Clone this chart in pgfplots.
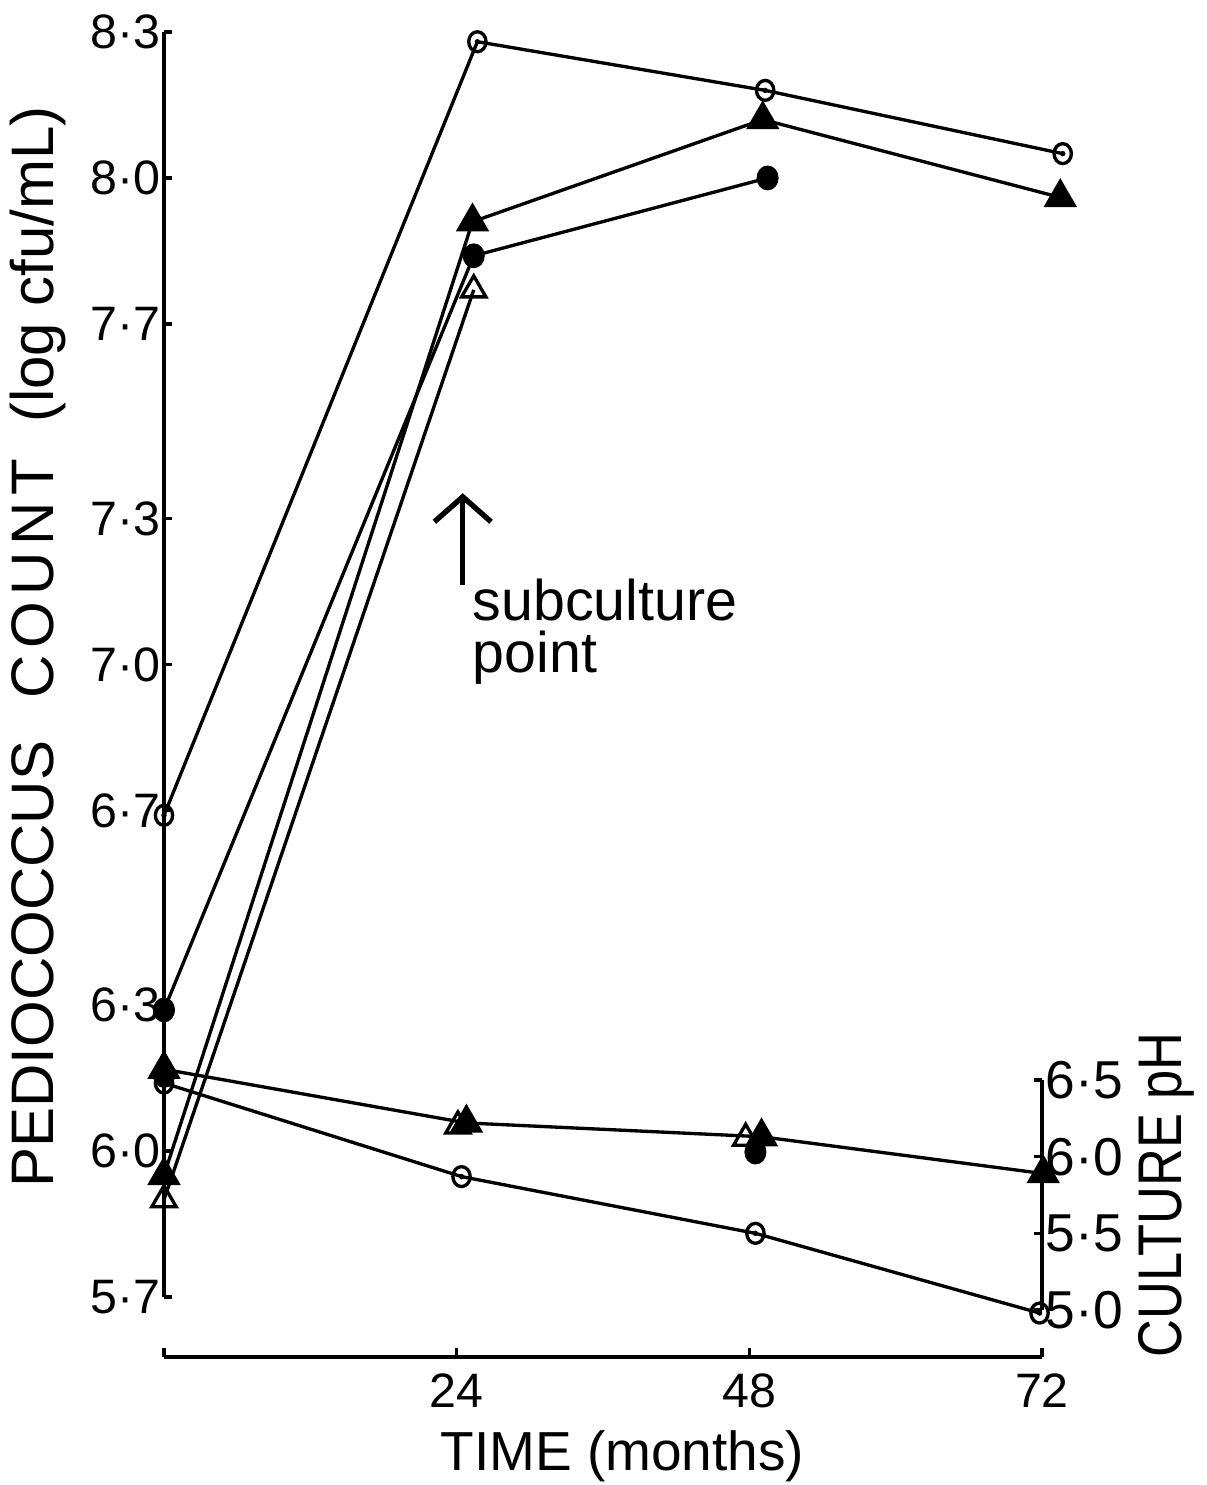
\documentclass[border=0pt]{standalone}
\usepackage{fontspec}
\setmainfont{Liberation Sans}
\newfontfamily\narrowfont[FakeStretch=0.85]{Liberation Sans}
\usepackage{pgfplots}
\pgfplotsset{compat=1.18}
\usetikzlibrary{arrows.meta}

\newcommand{\ticksize}{\fontsize{14.5}{16}\selectfont}
\newcommand{\phticksize}{\fontsize{16}{18}\selectfont}

\pgfplotsset{
  dotnum/.style={/pgf/number format/.cd, fixed, fixed zerofill, precision=1,
    set decimal separator={·}, assume math mode=true},
  thinline/.style={black, line width=1pt},
  ocirc/.style={thinline, mark=o, mark size=2.6pt,
    mark options={solid, fill=white, yscale=1.15, line width=1pt}},
  ocircdot/.style={only marks, mark=*, mark size=0.6pt, mark options={black}},
  fcirc/.style={thinline, mark=*, mark size=2.8pt,
    mark options={solid, fill=black, yscale=1.15}},
  ftri/.style={thinline, mark=triangle*, mark size=4.8pt,
    mark options={solid, fill=black}},
  otri/.style={thinline, mark=triangle, mark size=4.2pt,
    mark options={solid, fill=white, line width=1pt}},
}

\begin{document}
\begin{tikzpicture}
\path[use as bounding box] (0,0) rectangle (362.1pt,445.5pt);

% ---------------- Pediococcus count (left axis) ----------------
\begin{axis}[
  at={(49.2pt,56.4pt)}, anchor=south west,
  scale only axis, width=263.4pt, height=379.5pt,
  xmin=0, xmax=72, ymin=5.7, ymax=8.3, clip=false,
  axis x line=none, axis y line*=left,
  axis line style={line width=1pt, -},
  ytick={5.7,6.0,6.3,6.7,7.0,7.3,7.7,8.0,8.3},
  tick align=inside, major tick length=2.5pt,
  tick style={line width=1pt, black},
  yticklabel style={font=\ticksize, inner xsep=1pt, dotnum},
  every axis y label/.style={at={(axis description cs:-0.1435,0.514)},
    anchor=center, rotate=90},
  ylabel={\fontsize{18}{20}\selectfont PEDIOCOCCUS\hspace{0.7em}C\kern2pt O\kern2pt U\kern2pt N\kern2pt T\hspace{0.6em}(log cfu/mL)},
]
% open circles
\addplot[ocirc] coordinates {(0,6.69) (25.7,8.28) (49.3,8.18) (73.7,8.05)};
\addplot[ocircdot] coordinates {(0,6.69) (25.7,8.28) (49.3,8.18) (73.7,8.05)};
% filled triangles
\addplot[ftri] coordinates {(0,5.95) (25.3,7.91) (49.1,8.12) (73.5,7.96)};
% filled circles
\addplot[fcirc] coordinates {(0,6.29) (25.4,7.84) (49.5,8.00)};
% open triangles
\addplot[otri] coordinates {(0,5.90) (25.4,7.77)};

% subculture marker
\draw[line width=1.6pt, -{Straight Barb[length=7.5pt,width=17pt,line width=1.6pt]}]
  (axis cs:24.5,7.163) -- (axis cs:24.5,7.352);
\node[anchor=base west, inner sep=0pt, font=\fontsize{17.2}{19}\selectfont]
  at (axis cs:25.26,7.091) {subculture};
\node[anchor=base west, inner sep=0pt, font=\fontsize{17.2}{19}\selectfont]
  at (axis cs:25.26,6.984) {point};
\end{axis}

% ---------------- time axis ----------------
\begin{axis}[
  at={(49.2pt,38.4pt)}, anchor=south west,
  scale only axis, width=263.4pt, height=5pt,
  xmin=0, xmax=72, ymin=0, ymax=1,
  axis y line=none, axis x line*=bottom,
  axis line style={line width=1pt, -},
  xtick={24,48,72}, extra x ticks={0}, extra x tick labels={},
  tick align=inside, major tick length=2.6pt,
  tick style={line width=1pt, black},
  xticklabel style={font=\ticksize, yshift=-1.5pt},
  /pgf/number format/assume math mode=true,
  every axis x label/.style={at={(axis description cs:0.522,0)},
    anchor=base, yshift=-33.9pt},
  xlabel={\fontsize{16.5}{18}\selectfont TIME (months)},
]
\end{axis}

% ---------------- culture pH (right axis) ----------------
\begin{axis}[
  at={(49.2pt,52.5pt)}, anchor=south west,
  scale only axis, width=263.4pt, height=69pt,
  xmin=0, xmax=72, ymin=5.0, ymax=6.5, clip=false,
  axis x line=none, axis y line*=right,
  axis line style={line width=1pt, -},
  ytick={5.0,5.5,6.0,6.5},
  tick align=inside, major tick length=2.5pt,
  tick style={line width=1pt, black},
  yticklabel style={font=\phticksize, inner xsep=1pt, dotnum},
  every axis y label/.style={at={(axis description cs:1.142,0.5)},
    anchor=center, rotate=90},
  ylabel={\narrowfont\fontsize{18.5}{20}\selectfont CULTURE pH},
]
% open circles
\addplot[ocirc] coordinates {(0,6.48) (24.4,5.87) (48.5,5.50) (71.8,4.98)};
\addplot[ocircdot] coordinates {(0,6.48) (24.4,5.87) (48.5,5.50) (71.8,4.98)};
% filled circles
\addplot[fcirc, only marks] coordinates {(0,6.53) (48.5,6.03)};
% open triangles
\addplot[otri, only marks] coordinates {(0,6.58) (24.1,6.20) (47.7,6.12)};
% filled triangles
\addplot[ftri] coordinates {(0,6.57) (24.8,6.22) (49.0,6.13) (72.1,5.89)};
\end{axis}
\end{tikzpicture}
\end{document}
